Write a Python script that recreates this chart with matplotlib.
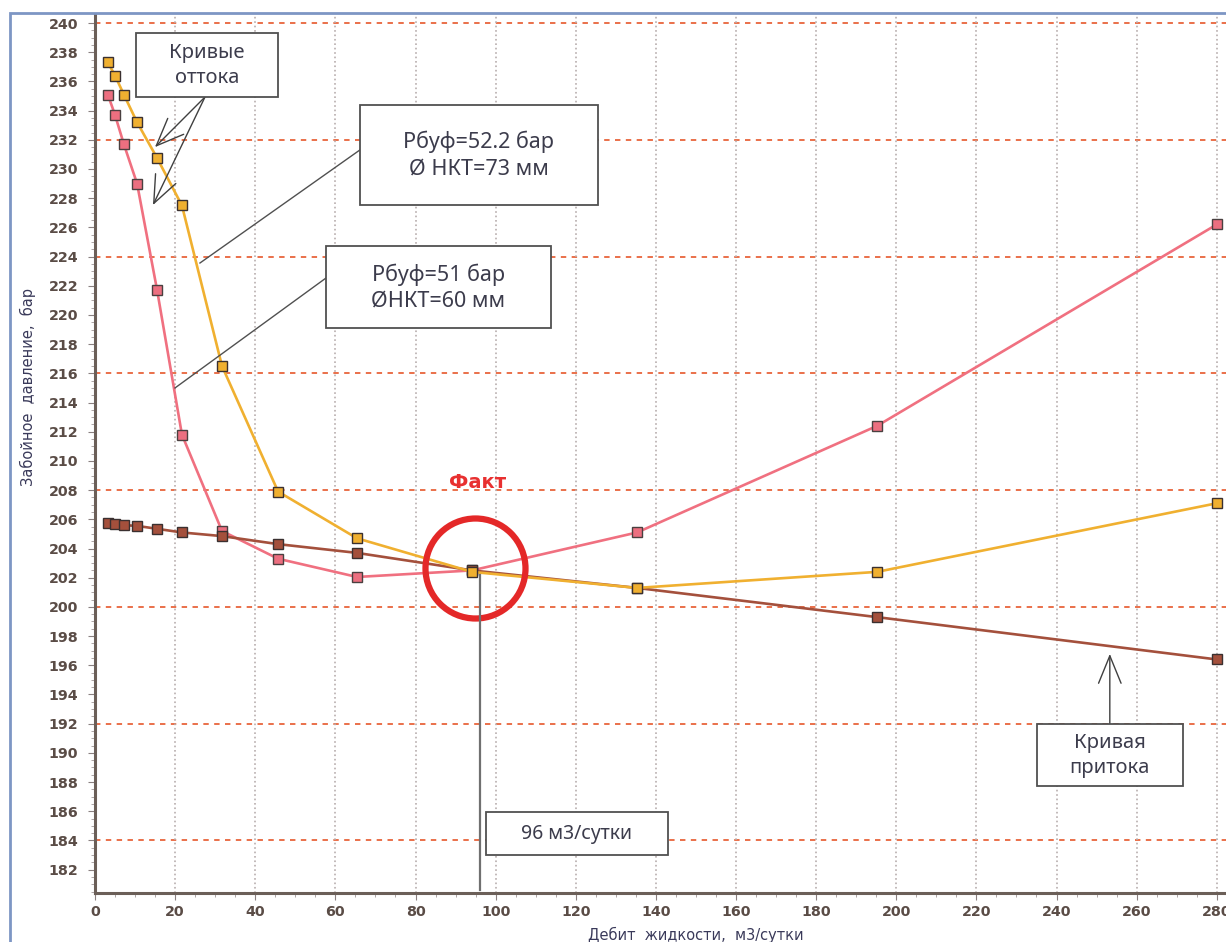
import matplotlib
matplotlib.use('Agg')
import matplotlib.pyplot as plt
from matplotlib.patches import Rectangle

# дебит жидкости, м3/сутки (общий для всех кривых)
q = [3.2, 5.0, 7.2, 10.5, 15.5, 21.7, 31.7, 45.7, 65.4, 94.1, 135.3, 195.2, 280.0]

# кривые оттока
p_out_73 = [237.3, 236.4, 235.1, 233.2, 230.75, 227.5, 216.5, 207.9, 204.7, 202.4, 201.3, 202.4, 207.1]
p_out_60 = [235.1, 233.7, 231.7, 229.0, 221.7, 211.8, 205.2, 203.3, 202.05, 202.5, 205.1, 212.4, 226.2]
# кривая притока
p_in = [205.75, 205.7, 205.6, 205.55, 205.35, 205.1, 204.85, 204.3, 203.7, 202.5, 201.3, 199.3, 196.4]

q_fact = 96
red_grid = [184, 192, 200, 208, 216, 224, 232, 240]

txt_col = '#3c3c4c'
tick_col = '#5a4c46'

fig = plt.figure(figsize=(12.26, 9.42), dpi=100)
ax = fig.add_axes([95 / 1226, 49 / 942, 1 - 95 / 1226, (893 - 15) / 942])

# рамка окна
fig.patches.append(Rectangle((10 / 1226, -0.1), 1.2, (942 - 13) / 942 + 0.1,
                             transform=fig.transFigure, fill=False,
                             edgecolor='#7d96c4', lw=2, zorder=0))

ax.plot(q, p_out_60, color='#f07080', lw=1.9, marker='s', ms=6.5,
        mfc='#ec6f80', mec='#4a4040', mew=1, zorder=3)
ax.plot(q, p_in, color='#a4503c', lw=1.9, marker='s', ms=6.5,
        mfc='#a4503c', mec='#3a3030', mew=1, zorder=4)
ax.plot(q, p_out_73, color='#f0b030', lw=1.9, marker='s', ms=6.5,
        mfc='#f0b030', mec='#3a3030', mew=1, zorder=5)

ax.set_xlim(0, 282.3)
ax.set_ylim(180.4, 240.55)
ax.set_xticks(range(0, 281, 20))
ax.set_yticks(range(182, 241, 2))
ax.set_xticks(range(0, 283, 5), minor=True)
ax.set_yticks([180.5 + 0.5 * i for i in range(120)], minor=True)
ax.tick_params(axis='both', which='major', labelsize=10.3, labelcolor=tick_col,
               color='#8a8080', length=5)
ax.tick_params(axis='y', which='major', pad=7)
ax.tick_params(axis='both', which='minor', color='#a09898', length=3)
for lab in ax.get_xticklabels() + ax.get_yticklabels():
    lab.set_fontweight('bold')

ax.grid(axis='x', which='major', linestyle=':', color='#b8aeae', lw=1.2)
for yv in red_grid:
    ax.axhline(yv, color='#e8643c', ls=(0, (3, 3)), lw=1.3, zorder=1)

for s in ['top', 'right']:
    ax.spines[s].set_visible(False)
for s in ['left', 'bottom']:
    ax.spines[s].set_color('#6b5f58')
    ax.spines[s].set_linewidth(2.2)

ax.set_xlabel('Дебит  жидкости,  м3/сутки', fontsize=10.5, color='#3a3a5a')
ax.xaxis.set_label_coords(0.531, -0.038)
ax.set_ylabel('Забойное  давление,  бар', fontsize=10.5, color='#3a3a5a')
ax.yaxis.set_label_coords(-0.052, 0.576)

# факт: точка пересечения
ax.plot([94.8], [202.67], marker='o', ms=72, mfc='none', mec='#e42828', mew=4.5, zorder=6)
ax.text(95.6, 208.5, 'Факт', color='#e83030', fontsize=14, fontweight='bold',
        ha='center', va='center', zorder=6)
ax.plot([q_fact, q_fact], [202.2, 180.6], color='#707070', lw=1.6, zorder=6)


def box(x0, y0, w, h, text, fs=13):
    ax.add_patch(Rectangle((x0, y0), w, h, facecolor='white', edgecolor='#505050',
                           lw=1.3, zorder=7))
    ax.text(x0 + w / 2, y0 + h / 2, text, ha='center', va='center', fontsize=fs,
            color=txt_col, family='Noto Sans', linespacing=1.3, zorder=8)


box(10.2, 234.9, 35.5, 4.4, 'Кривые\nоттока', 14.5)
box(66.1, 227.5, 59.4, 6.9, 'Рбуф=52.2 бар\nØ НКТ=73 мм', 15.5)
box(57.6, 219.1, 56.2, 5.6, 'Рбуф=51 бар\nØНКТ=60 мм', 15.5)
box(235.1, 187.7, 36.4, 4.25, 'Кривая\nпритока', 14.5)
box(97.6, 183.0, 45.4, 2.95, '96 м3/сутки', 14)

arr = dict(arrowstyle='->,head_length=1.1,head_width=0.45', color='#404040',
           lw=1, mutation_scale=18, shrinkA=0, shrinkB=0)
ax.annotate('', xy=(14.97, 231.5), xytext=(27.45, 234.93), arrowprops=arr, zorder=6)
ax.annotate('', xy=(14.47, 227.53), xytext=(27.45, 234.93), arrowprops=arr, zorder=6)
ax.annotate('', xy=(253.3, 196.78), xytext=(253.3, 191.92), arrowprops=arr, zorder=6)
ax.plot([66.1, 26.2], [231.3, 223.56], color='#505050', lw=1, zorder=6)
ax.plot([57.65, 19.97], [222.53, 215.0], color='#505050', lw=1, zorder=6)

fig.savefig('out.png', dpi=100)
